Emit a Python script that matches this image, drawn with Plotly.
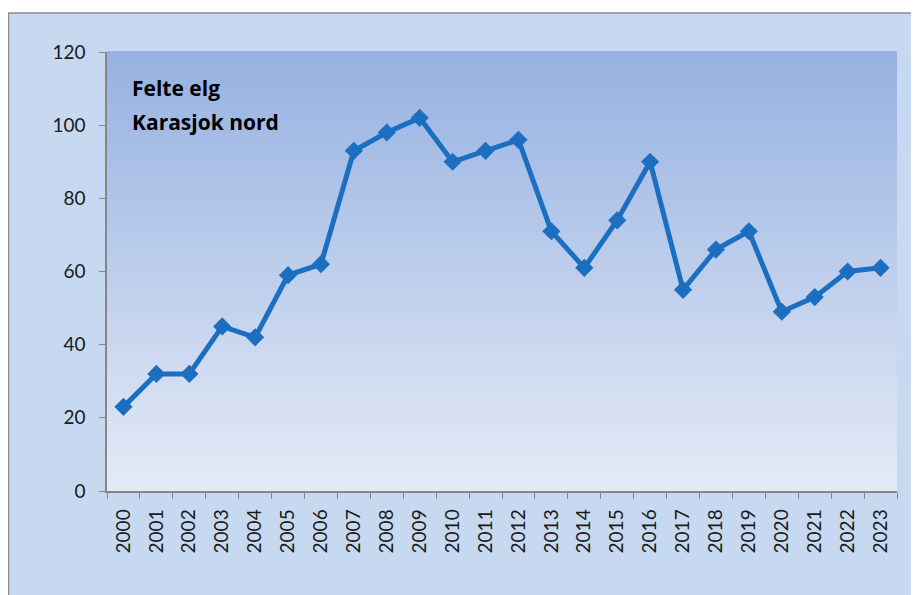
import plotly.graph_objects as go

years = [str(y) for y in range(2000, 2024)]
felte_elg = [23, 32, 32, 45, 42, 59, 62, 93, 98, 102, 90, 93, 96, 71, 61, 74, 90, 55, 66, 71, 49, 53, 60, 61]
title_lines = ["Felte elg", "Karasjok nord"]

# page body has an 8px margin, so the figure fills the rest of the window
W, H = 911, 587
ml, mr, mt, mb = 99, 22, 44, 104
pw, ph = W - ml - mr, H - mt - mb

def px_x(x):
    return (x - ml) / pw

def px_y(y):
    return (H - mb - y) / ph

fig = go.Figure()

fig.add_trace(go.Scatter(
    x=years, y=felte_elg,
    mode='lines+markers',
    line=dict(color='#1c6ec1', width=5),
    marker=dict(symbol='diamond', size=14, color='#1c6ec1'),
    hoverinfo='x+y',
    showlegend=False
))

# outer chart area (light blue box with grey border)
shapes = [dict(
    type='rect', xref='paper', yref='paper', layer='below',
    x0=px_x(0.5), x1=px_x(W + 5), y0=px_y(H + 5), y1=px_y(5),
    fillcolor='#c6d9f0', line=dict(color='#8c8c8c', width=1.5)
)]

# vertical gradient in the plot area
top = (150, 178, 225)
bot = (228, 234, 246)
n = 60
for i in range(n):
    t = i / (n - 1)
    c = tuple(round(bot[k] + (top[k] - bot[k]) * t) for k in range(3))
    shapes.append(dict(
        type='rect', xref='x domain', yref='y domain', layer='below',
        x0=0, x1=1, y0=i / n, y1=(i + 1) / n + 0.002,
        fillcolor='rgb(%d,%d,%d)' % c, line=dict(width=0)
    ))

annotations = [
    dict(text=f'<b>{line}</b>', xref='paper', yref='paper',
         x=px_x(122), y=px_y(yc), xanchor='left', yanchor='middle',
         showarrow=False, font=dict(size=21, color='black', family='Open Sans'))
    for line, yc in zip(title_lines, [80, 114])
]

fig.update_layout(
    width=W, height=H,
    margin=dict(l=ml, r=mr, t=mt, b=mb),
    paper_bgcolor='white',
    plot_bgcolor='rgba(0,0,0,0)',
    shapes=shapes,
    annotations=annotations,
    font=dict(family='Lato', color='#1a1a1a', size=19),
    xaxis=dict(
        type='category', range=[-0.5, 23.5],
        tickangle=-90, tickson='boundaries',
        ticks='outside', ticklen=6, tickcolor='#868686',
        ticklabelstandoff=9,
        showline=True, linecolor='#868686', linewidth=1.5,
        showgrid=False, tickfont=dict(size=19)
    ),
    yaxis=dict(
        range=[0, 120], dtick=20,
        ticks='outside', ticklen=6, tickcolor='#868686',
        ticklabelstandoff=10,
        showline=True, linecolor='#868686', linewidth=1.5,
        showgrid=False, zeroline=False, tickfont=dict(size=19)
    ),
)

fig.write_html("out.html")
